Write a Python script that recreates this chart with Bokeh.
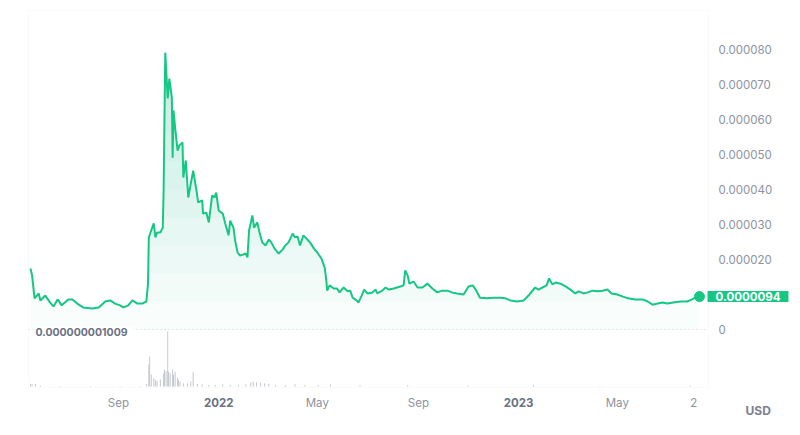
import numpy as np
import pandas as pd
from bokeh.plotting import figure
from bokeh.models import (Range1d, Label, LabelSet, BoxAnnotation, ColumnDataSource)
from bokeh.core.properties import value
from bokeh.embed import file_html
from bokeh.resources import INLINE

# ---------------- data ----------------
start_date = "2021-05-17"
price_days = [0, 2, 5, 10, 12, 18, 24, 28, 33, 38,
              46, 51, 57, 64, 75, 83, 91, 97, 103, 109,
              113, 119, 124, 130, 136, 141, 143, 144, 146, 150,
              152, 154, 158, 161, 162, 164, 167, 169, 172, 173,
              174, 176, 179, 181, 185, 186, 189, 192, 198, 202,
              204, 209, 210, 214, 217, 221, 224, 226, 229, 234,
              237, 241, 243, 247, 249, 252, 255, 262, 264, 266,
              270, 272, 276, 279, 282, 286, 290, 293, 297, 302,
              307, 310, 314, 319, 322, 325, 328, 332, 337, 341,
              345, 349, 354, 358, 360, 361, 364, 369, 373, 376,
              381, 386, 389, 392, 397, 399, 403, 406, 410, 416,
              420, 422, 428, 432, 436, 442, 450, 454, 456, 459,
              461, 466, 471, 477, 483, 489, 495, 501, 507, 513,
              519, 527, 533, 538, 541, 547, 556, 563, 572, 578,
              584, 592, 600, 606, 614, 618, 623, 628, 631, 635,
              639, 645, 651, 657, 663, 667, 673, 678, 684, 690,
              696, 702, 707, 714, 721, 727, 736, 745, 751, 757,
              763, 769, 775, 782, 791, 799, 805, 809, 814]
price_e6 = [17.4, 15.4, 8.9, 10.3, 8.3, 9.7, 7.7, 6.6, 8.6, 6.9,
            8.6, 8.6, 7.4, 6.3, 6.0, 6.3, 8.0, 8.3, 7.4, 6.9,
            6.3, 6.9, 8.3, 7.4, 7.4, 8.0, 13.1, 26.3, 27.7, 30.3,
            26.3, 27.7, 27.7, 29.1, 39.7, 79.1, 66.0, 71.7, 66.3, 49.1,
            62.6, 57.7, 51.1, 52.6, 53.4, 43.4, 48.3, 37.7, 45.4, 39.7,
            36.3, 36.9, 33.1, 33.4, 30.6, 38.3, 37.7, 39.1, 34.0, 33.1,
            30.3, 26.9, 31.1, 29.1, 25.4, 22.0, 21.1, 21.7, 20.6, 28.3,
            32.6, 29.1, 30.6, 27.4, 24.9, 24.0, 25.7, 24.9, 23.1, 21.7,
            22.9, 24.0, 24.9, 27.4, 26.3, 26.6, 24.0, 26.9, 25.7, 24.6,
            23.1, 22.0, 20.3, 17.7, 14.0, 11.1, 12.6, 11.7, 11.7, 10.6,
            12.0, 10.9, 11.1, 9.1, 8.3, 7.7, 9.7, 11.4, 10.3, 10.6,
            11.4, 10.3, 11.1, 12.0, 11.4, 11.7, 12.3, 12.6, 16.9, 15.4,
            13.1, 13.7, 12.0, 12.0, 13.1, 11.7, 10.6, 11.1, 11.1, 10.6,
            10.3, 10.0, 12.3, 12.6, 11.7, 9.1, 8.9, 9.1, 9.1, 8.9,
            8.3, 8.0, 8.3, 9.7, 12.0, 11.4, 12.0, 12.6, 14.6, 12.9,
            13.4, 13.1, 12.3, 11.4, 10.3, 10.9, 10.3, 10.6, 11.1, 10.9,
            11.1, 11.4, 10.3, 10.0, 9.4, 8.9, 8.6, 8.6, 8.0, 7.1,
            7.4, 7.7, 7.4, 7.7, 8.0, 8.0, 8.6, 9.1, 9.4]

vol_days = [0, 2, 6, 12, 36, 73, 109, 134,
            141, 144, 145, 147, 150, 152, 154, 158,
            162, 163, 165, 167, 168, 170, 173, 174,
            176, 179, 180, 182, 186, 191, 195, 198,
            203, 209, 217, 225, 234, 243, 253, 262,
            268, 271, 275, 280, 285, 290, 298, 310,
            322, 334, 350, 365, 401, 459, 532, 612,
            693, 803]
vol_e9 = [0.05, 0.04, 0.05, 0.02, 0.01, 0.01, 0.01, 0.01,
          0.05, 0.40, 0.55, 0.22, 0.15, 0.12, 0.10, 0.13,
          0.24, 0.31, 0.28, 1.009, 0.27, 0.24, 0.31, 0.22,
          0.27, 0.16, 0.12, 0.09, 0.06, 0.06, 0.09, 0.27,
          0.05, 0.04, 0.03, 0.03, 0.04, 0.03, 0.03, 0.04,
          0.07, 0.09, 0.08, 0.07, 0.06, 0.05, 0.03, 0.03,
          0.04, 0.03, 0.03, 0.04, 0.02, 0.03, 0.02, 0.03,
          0.01, 0.02]

x_tick_dates = ["2021-09-01", "2022-01-01", "2022-05-01", "2022-09-01",
                "2023-01-01", "2023-05-01", "2023-08-02"]
x_tick_labels = ["Sep", "2022", "May", "Sep", "2023", "May", "2"]
y_ticks = [0, 2e-5, 3e-5, 4e-5, 5e-5, 6e-5, 7e-5, 8e-5]
vol_max_label = "0.000000001009"
current_price_label = "0.0000094"
currency_label = "USD"

# ---------------- derived ----------------
t0 = pd.Timestamp(start_date)
px = t0 + pd.to_timedelta(price_days, unit="D")
py = np.array(price_e6) * 1e-6
vx = t0 + pd.to_timedelta(vol_days, unit="D")
vy = np.array(vol_e9) * 1e-9

GREEN = "#16c784"
FONT = "Inter"
GRAY = "#8c93a1"
DARK = "#6a7283"
W, H = 800, 435
FL, FR, FT, FB = 28, 708, 10, 387          # visible plotting box (px)

def ms(ts):
    return pd.Timestamp(ts).value / 1e6

# data extents of the visible plotting box
x_start = ms(t0 - pd.Timedelta(days=2.4))
x_end = ms(t0 + pd.Timedelta(days=825))
Y0, Y1 = -16.57e-6, 91.14e-6
V0, V1 = -0.018e-9, 6.898e-9

# the Bokeh frame covers the whole canvas, so ranges are widened accordingly
xpp = (x_end - x_start) / (FR - FL)
ypp = (Y1 - Y0) / (FB - FT)
vpp = (V1 - V0) / (FB - FT)
xr = Range1d(x_start - FL * xpp, x_end + (W - FR) * xpp)
yr = Range1d(Y0 - (H - FB) * ypp, Y1 + FT * ypp)

p = figure(width=W, height=H, x_axis_type="datetime", x_axis_location=None, y_axis_location=None,
           x_range=xr, y_range=yr, output_backend="svg", toolbar_location=None,
           min_border=0)
p.extra_y_ranges = {"vol": Range1d(V0 - (H - FB) * vpp, V1 + FT * vpp)}
p.grid.visible = False
p.outline_line_color = None
p.background_fill_color = "white"
p.border_fill_color = "white"

# plotting box outline
p.add_layout(BoxAnnotation(left=x_start, right=x_end, bottom=Y0, top=Y1, fill_alpha=0,
                           line_color="#eef0f3", line_width=1))

# gradient-like fill under the price line
src = ColumnDataSource(dict(x=px, y=py))
for L in np.arange(0, 80e-6, 8e-6):
    p.varea(x=px, y1=np.full(len(py), L), y2=np.maximum(py, L), fill_color=GREEN, fill_alpha=0.028)

# zero dotted line
p.segment(x0=[x_start], y0=[0], x1=[x_end], y1=[0], line_color="#c9cdd4",
          line_dash="1 3", line_width=1)

# volume bars
p.segment(x0=vx, y0=np.zeros(len(vy)), x1=vx, y1=vy, y_range_name="vol",
          line_color="#c3c7ce", line_width=1)

# price line and last point
p.line("x", "y", source=src, line_color=GREEN, line_width=2)
p.scatter(x=[px[-1]], y=[py[-1]], size=10, color=GREEN)

# right-hand price tick labels
ylab_src = ColumnDataSource(dict(x=[FR + 10] * len(y_ticks), y=y_ticks,
                                 text=["0" if v == 0 else f"{v:.6f}" for v in y_ticks]))
p.add_layout(LabelSet(x="x", y="y", text="text", source=ylab_src, x_units="screen",
                      text_align="left", text_baseline="middle", text_font=value(FONT),
                      text_font_size=value("11.5px"), text_color=GRAY))

# bottom date labels (years bold)
is_year = [lab.isdigit() and len(lab) == 4 for lab in x_tick_labels]
label_y = H - 402
reg_src = ColumnDataSource(dict(x=[ms(d) for d, yv in zip(x_tick_dates, is_year) if not yv],
                                y=[label_y] * is_year.count(False),
                                text=[l for l, yv in zip(x_tick_labels, is_year) if not yv]))
yr_src = ColumnDataSource(dict(x=[ms(d) for d, yv in zip(x_tick_dates, is_year) if yv],
                               y=[label_y] * is_year.count(True),
                               text=[l for l, yv in zip(x_tick_labels, is_year) if yv]))
p.add_layout(LabelSet(x="x", y="y", text="text", source=reg_src, y_units="screen",
                      text_align="center", text_baseline="middle", text_font=value(FONT),
                      text_font_size=value("11.5px"), text_color=GRAY))
p.add_layout(LabelSet(x="x", y="y", text="text", source=yr_src, y_units="screen",
                      text_align="center", text_baseline="middle", text_font=value(FONT),
                      text_font_size=value("11.5px"), text_font_style="bold", text_color=DARK))

# volume max label
p.add_layout(Label(x=ms(t0 + pd.Timedelta(days=6)), y=1.009e-9, y_range_name="vol",
                   text=vol_max_label, text_align="left", text_baseline="middle",
                   text_font=FONT, text_font_size="10.5px", text_font_style="bold",
                   text_color=DARK, background_fill_color="white", background_fill_alpha=1.0,
                   padding=dict(left=0, right=6, top=1, bottom=1)))

# current price tag
p.add_layout(Label(x=FR - 1, x_units="screen", y=py[-1], text=current_price_label,
                   text_align="left", text_baseline="middle", text_font=FONT,
                   text_font_size="11.5px", text_font_style="bold", text_color="white",
                   background_fill_color=GREEN,
                   padding=dict(left=8, right=8, top=1, bottom=1)))

# currency label
p.add_layout(Label(x=745, x_units="screen", y=H - 410, y_units="screen", text=currency_label,
                   text_align="left", text_baseline="middle", text_font=FONT,
                   text_font_size="12px", text_font_style="bold", text_color="#7a8191"))

open("out.html", "w").write(file_html(p, INLINE))
